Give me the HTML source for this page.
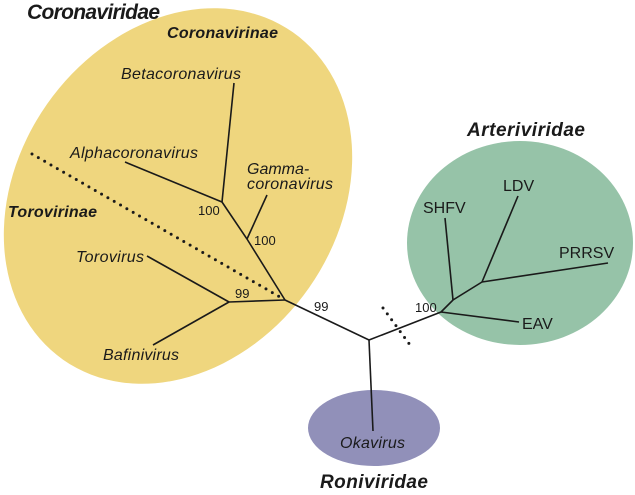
<!DOCTYPE html>
<html><head><meta charset="utf-8"><style>
html,body{margin:0;padding:0;background:#fff;}
svg{display:block;}
text{font-family:"Liberation Sans",Arial,sans-serif;fill:#1a1a1a;}
.i{font-style:italic;font-size:16px;}
.b{font-style:italic;font-weight:bold;}
.n{font-size:13px;}
.r{font-size:16px;}
</style></head><body>
<svg width="635" height="495" viewBox="0 0 635 495" xmlns="http://www.w3.org/2000/svg">
<ellipse cx="178" cy="196" rx="200" ry="160" transform="rotate(-55 178 196)" fill="#efd67e"/>
<ellipse cx="520" cy="243" rx="113" ry="102" fill="#96c3a8"/>
<ellipse cx="374" cy="428" rx="66" ry="38" fill="#9190b9"/>
<g stroke="#1a1a1a" stroke-width="1.6" fill="none">
<line x1="234" y1="83" x2="222" y2="202"/>
<line x1="125" y1="162" x2="222" y2="202"/>
<polyline points="222,202 247,239 285,300"/>
<line x1="267" y1="195" x2="247" y2="239"/>
<line x1="147" y1="256" x2="229" y2="302"/>
<line x1="153" y1="345" x2="229" y2="302"/>
<line x1="229" y1="302" x2="285" y2="300"/>
<polyline points="285,300 369,340 441,312"/>
<line x1="369" y1="340" x2="373" y2="431"/>
<line x1="441" y1="312" x2="519" y2="322"/>
<polyline points="441,312 453,300 482,282"/>
<line x1="445" y1="218" x2="453" y2="300"/>
<line x1="518" y1="196" x2="482" y2="282"/>
<line x1="608" y1="263" x2="482" y2="282"/>
</g>
<g stroke="#1a1a1a" stroke-width="3" stroke-dasharray="0 7.3" stroke-linecap="round" fill="none">
<line x1="32" y1="154" x2="280" y2="297"/>
<line x1="383" y1="308" x2="413" y2="349"/>
</g>
<text class="b" x="27" y="19" font-size="21" textLength="133">Coronaviridae</text>
<text class="b" x="167" y="38" font-size="16" textLength="111">Coronavirinae</text>
<text class="i" x="121" y="79" textLength="120">Betacoronavirus</text>
<text class="i" x="70" y="158" textLength="128">Alphacoronavirus</text>
<text class="i" x="247" y="174">Gamma-</text>
<text class="i" x="247" y="189" textLength="86">coronavirus</text>
<text class="b" x="8" y="217" font-size="16" textLength="89">Torovirinae</text>
<text class="i" x="76" y="262" textLength="68">Torovirus</text>
<text class="i" x="103" y="360" textLength="76">Bafinivirus</text>
<text class="n" x="198" y="215">100</text>
<text class="n" x="254" y="245">100</text>
<text class="n" x="235" y="298">99</text>
<text class="n" x="314" y="311">99</text>
<text class="n" x="415" y="312">100</text>
<text class="b" x="467" y="136" font-size="19" textLength="118">Arteriviridae</text>
<text class="r" x="423" y="213">SHFV</text>
<text class="r" x="503" y="191">LDV</text>
<text class="r" x="559" y="258">PRRSV</text>
<text class="r" x="522" y="329">EAV</text>
<text class="i" x="340" y="448" textLength="65">Okavirus</text>
<text class="b" x="320" y="488" font-size="19" textLength="108">Roniviridae</text>
</svg>
</body></html>
